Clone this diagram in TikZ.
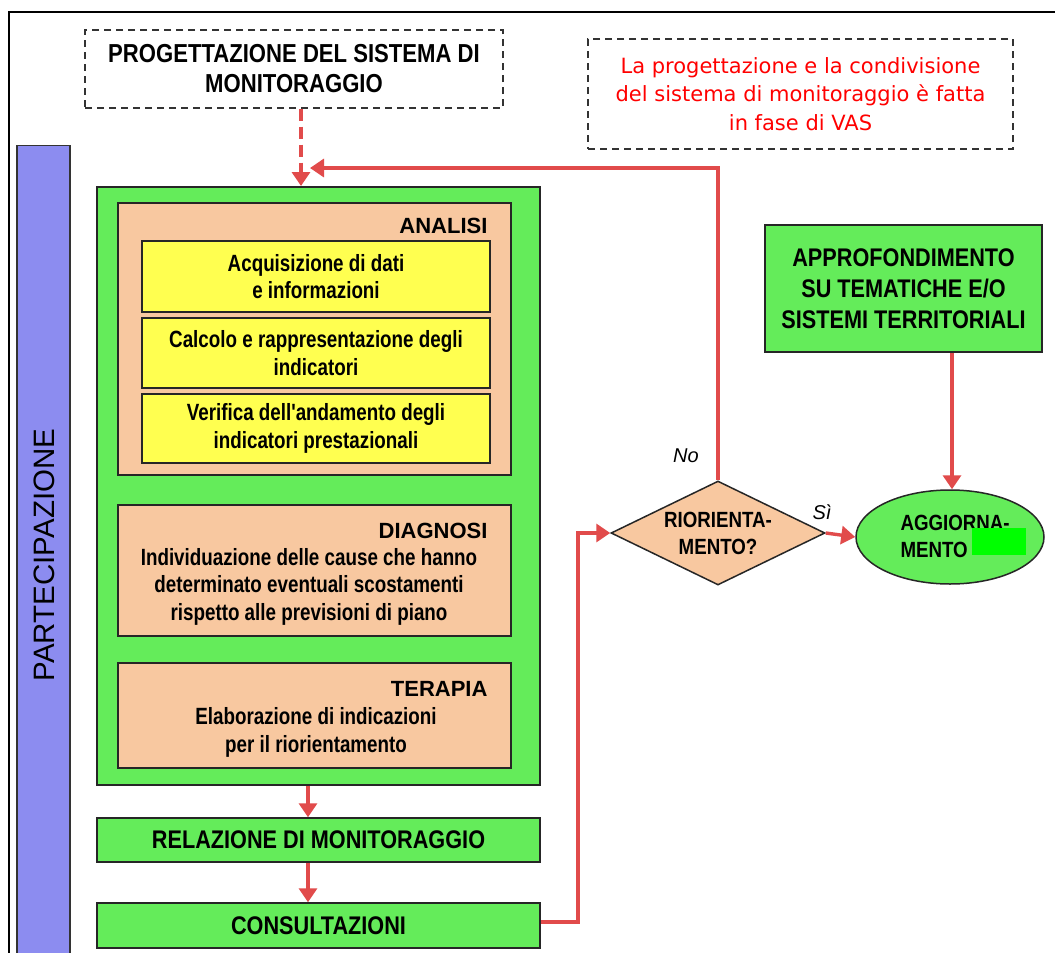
\documentclass[tikz,border=0pt]{standalone}
\usepackage{fontspec}
\setmainfont{Liberation Sans}
\newfontfamily\nar[FakeStretch=0.85]{Liberation Sans}
\newfontfamily\narr[FakeStretch=0.80]{Liberation Sans}
\newfontfamily\tah{DejaVu Sans}
\usetikzlibrary{arrows.meta,shapes.geometric}
\definecolor{gr}{RGB}{100,236,90}
\definecolor{pe}{RGB}{248,200,160}
\definecolor{ye}{RGB}{255,255,80}
\definecolor{bl}{RGB}{140,140,240}
\definecolor{rd}{RGB}{225,75,75}
\definecolor{brt}{RGB}{0,255,0}
\tikzset{
  box/.style={draw=black!85, line width=1.5pt, rectangle, inner sep=0pt, align=center},
  grbox/.style={box, fill=gr},
  pebox/.style={box, fill=pe},
  yebox/.style={box, fill=ye},
  dbox/.style={draw=black!80, line width=1.4pt, dash pattern=on 7pt off 5pt, inner sep=0pt, align=center},
  bt/.style={font=\nar\bfseries\fontsize{25.5}{31}\selectfont},
  ht/.style={font=\bfseries\fontsize{22}{26}\selectfont},
  st/.style={font=\narr\bfseries\fontsize{23.5}{27.5}\selectfont, align=center},
  dt/.style={font=\nar\bfseries\fontsize{22}{27}\selectfont, align=center},
  lab/.style={font=\itshape\fontsize{20}{22}\selectfont},
  conn/.style={draw=rd, line width=3.4pt, -{Triangle[width=18pt,length=14pt]}},
}
\begin{document}
\begin{tikzpicture}[x=1pt,y=-1pt]
\useasboundingbox (0,0) rectangle (1055,953);
\fill[white] (0,0) rectangle (1055,953);
% frame
\draw[line width=2.4pt] (9,953) -- (9,12) -- (1055,12);
% partecipazione bar
\node[draw=black!80, line width=1.4pt, fill=bl, minimum width=53pt, minimum height=815pt, inner sep=0pt] (part) at (43.5,553) {};
\node[rotate=90, font=\fontsize{29.5}{34}\selectfont] (partt) at (44,555) {PARTECIPAZIONE};
% top dashed boxes
\node[dbox, minimum width=418pt, minimum height=78pt, font=\nar\bfseries\fontsize{26}{30}\selectfont] (prog) at (294,69) {PROGETTAZIONE DEL SISTEMA DI\\MONITORAGGIO};
\node[dbox, minimum width=425pt, minimum height=110pt, text=red, font=\tah\fontsize{21}{28.5}\selectfont] (note) at (800.5,94) {La progettazione e la condivisione\\del sistema di monitoraggio è fatta\\in fase di VAS};
% big green box
\node[grbox, minimum width=443pt, minimum height=598pt] (big) at (318.5,486) {};
% analisi
\node[pebox, minimum width=393pt, minimum height=272pt] (an) at (314.5,339) {};
\node[ht, anchor=base east] (ant) at (491,233) {ANALISI};
\node[yebox, st, minimum width=348pt, minimum height=71pt] (y1) at (316,276.5) {Acquisizione di dati\\e informazioni};
\node[yebox, st, minimum width=348pt, minimum height=70pt] (y2) at (316,353) {Calcolo e rappresentazione degli\\indicatori};
\node[yebox, st, minimum width=348pt, minimum height=69pt] (y3) at (316,428.5) {Verifica dell'andamento degli\\indicatori prestazionali};
% diagnosi
\node[pebox, minimum width=393pt, minimum height=131pt] (dg) at (314.5,570.5) {};
\node[ht, anchor=base east] (dgt) at (491,538) {DIAGNOSI};
\node[st, anchor=base] (dgx) at (309,620) {Individuazione delle cause che hanno\\determinato eventuali scostamenti\\rispetto alle previsioni di piano};
% terapia
\node[pebox, minimum width=393pt, minimum height=105pt] (te) at (314.5,715.5) {};
\node[ht, anchor=base east] (tet) at (491,696) {TERAPIA};
\node[st, anchor=base] (tex) at (316,752) {Elaborazione di indicazioni\\per il riorientamento};
% relazione, consultazioni
\node[grbox, bt, minimum width=443pt, minimum height=44pt] (rel) at (318.5,840) {RELAZIONE DI MONITORAGGIO};
\node[grbox, bt, minimum width=443pt, minimum height=45pt] (con) at (318.5,925.5) {CONSULTAZIONI};
% diamond
\node[diamond, draw=black!85, line width=1.5pt, fill=pe, minimum width=214pt, minimum height=104pt, inner sep=0pt, aspect=2.06, dt] (dia) at (718,533) {RIORIENTA-\\MENTO?};
% approfondimento
\node[grbox, minimum width=277pt, minimum height=127pt, font=\nar\bfseries\fontsize{25.5}{31}\selectfont] (app) at (903.5,288.5) {APPROFONDIMENTO\\SU TEMATICHE E/O\\SISTEMI TERRITORIALI};
% ellipse
\node[ellipse, draw=black!85, line width=1.5pt, fill=gr, minimum width=188pt, minimum height=94pt, inner sep=0pt] (agg) at (950,537) {};
\node[dt, anchor=base west] (aggt) at (897,530) {AGGIORNA-};
\node[dt, anchor=base west] (aggt2) at (897,557) {MENTO};
\fill[brt] (972,528) rectangle (1026,555);
% labels
\node[lab] (no) at (686,456) {No};
\node[lab] (si) at (822,512) {Sì};
% connectors
\coordinate (fb) at (310,168);
\coordinate (c1) at (578,922);
\draw[conn, dash pattern=on 12pt off 6pt] (prog.south -| 301,0) -- (301,186);
\draw[conn] (dia.north) |- (fb);
\draw[conn] (big.south -| 308,0) -- (rel.north -| 308,0);
\draw[conn] (rel.south -| 308,0) -- (con.north -| 308,0);
\draw[conn] (con.east |- c1) -| (c1 |- dia.west) -- (dia.west);
\draw[conn] (dia.east) -- (agg.west);
\draw[conn] (app.south -| 952,0) -- (agg.north -| 952,0);
\end{tikzpicture}
\end{document}
